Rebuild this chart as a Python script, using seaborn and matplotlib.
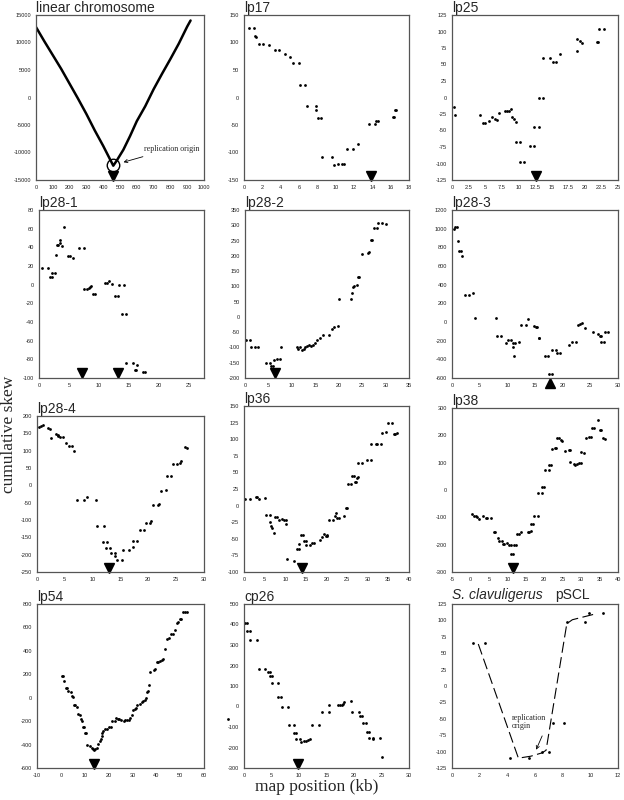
import numpy as np
import pandas as pd
import matplotlib
matplotlib.use('Agg')
import matplotlib.pyplot as plt
import seaborn as sns

# ---- datos ----
chrom_x = [0, 50, 100, 150, 200, 250, 300, 350, 400, 440, 460, 480, 520, 560, 600, 650, 700, 750, 800, 850, 900, 920]
chrom_y = [12800, 10200, 7700, 5200, 2500, -200, -3000, -6000, -8800, -11200, -12400, -11500, -9500, -7000, -4300, -1600, 1500, 4300, 7000, 9800, 12900, 14000]

lp17_x = [0.55, 1.1, 1.15, 1.35, 1.65, 2.05, 2.7, 3.35, 3.85, 4.5, 5.0, 5.3, 6.0, 6.1, 6.7, 6.9, 7.9, 7.9, 8.05, 8.4,
          8.5, 9.6, 9.8, 10.2, 10.7, 10.9, 11.2, 11.9, 12.4, 13.6, 14.3, 14.4, 14.6, 16.2, 16.4, 16.5, 16.6]
lp17_y = [127, 127, 112, 110, 97, 97, 95, 86, 86, 80, 74, 62, 62, 23, 23, -15, -15, -22, -38, -38,
          -108, -108, -122, -121, -120, -121, -93, -93, -85, -48, -49, -42, -42, -36, -36, -22, -22]

lp25_x = [0.3, 0.5, 4.2, 4.7, 4.9, 5.6, 6.0, 6.5, 6.8, 7.1, 8.0, 8.3, 8.6, 8.85, 9.1, 9.4, 9.6, 9.7, 10.3, 10.3,
          10.85, 11.7, 12.3, 12.4, 13.1, 13.1, 13.7, 13.7, 14.7, 15.2, 15.7, 16.3, 18.8, 18.9, 19.3, 19.6, 21.8, 22.0, 22.1, 22.9]
lp25_y = [-15, -26, -26, -38, -39, -36, -30, -32, -34, -23, -21, -21, -21, -17, -30, -32, -37, -68, -68, -97,
          -97, -73, -73, -44, -44, 0, 0, 60, 60, 54, 54, 66, 70, 89, 85, 83, 84, 84, 104, 104]

lp281_x = [0.45, 1.45, 1.8, 2.2, 2.2, 2.7, 2.8, 2.95, 3.2, 3.5, 3.55, 3.9, 4.2, 4.8, 5.2, 5.7, 6.7, 7.55, 7.5, 8.05,
           8.4, 8.55, 8.7, 9.05, 9.3, 11.05, 11.3, 11.7, 12.2, 12.7, 13.2, 13.3, 14.1, 13.9, 14.5, 14.55, 15.7, 16.3, 16.0, 16.2,
           17.4, 17.7]
lp281_y = [18, 18, 8, 8, 13, 13, 32, 42, 42, 48, 45, 41, 62, 31, 31, 29, 39.5, 39.5, -5, -5,
           -4, -2, -1, -10, -10, 2, 2, 4, 1, -12, -12, 0, 0, -31, -31, -84, -84, -86, -91, -91,
           -94, -94]

lp282_x = [0.2, 1.1, 1.2, 2.1, 2.85, 4.4, 5.4, 5.6, 6.0, 6.25, 6.75, 7.5, 7.75, 11.0, 11.3, 11.7, 12.2, 12.5, 12.8, 13.2,
           13.65, 14.1, 14.6, 14.9, 15.4, 16.0, 16.7, 17.9, 18.5, 19.0, 19.8, 20.1, 22.6, 22.8, 23.0, 23.3, 23.8, 24.1, 24.3, 24.9,
           26.3, 26.5, 26.9, 27.2, 27.6, 28.2, 28.4, 29.2, 30.1]
lp282_y = [-75, -75, -100, -100, -100, -150, -150, -160, -160, -141, -137, -137, -97, -100, -106, -100, -108, -105, -100, -95,
           -92, -96, -92, -87, -75, -70, -58, -58, -38, -33, -31, 58, 58, 77, 98, 100, 104, 132, 132, 205,
           210, 214, 253, 253, 290, 290, 307, 307, 305]

lp283_x = [0.35, 0.6, 0.96, 1.1, 1.3, 1.6, 1.75, 2.35, 3.1, 3.8, 4.1, 7.9, 8.1, 8.8, 9.7, 10.1, 10.7, 11.0, 11.15, 11.1,
           11.4, 12.1, 12.4, 13.4, 13.8, 14.8, 15.1, 15.4, 15.65, 15.8, 16.75, 17.35, 17.5, 18.1, 18.0, 18.8, 18.9, 19.5, 21.1, 21.6,
           22.4, 22.8, 23.2, 23.5, 24.1, 25.5, 26.4, 26.7, 26.9, 27.0, 27.4, 27.7, 28.2]
lp283_y = [999, 1015, 1015, 873, 761, 761, 704, 286, 286, 311, 45, 45, -145, -145, -228, -196, -196, -268, -368, -228,
           -228, -214, -27, -27, 27, -48, -55, -55, -167, -167, -361, -361, -559, -559, -304, -304, -332, -332, -246, -214,
           -214, -30, -23, -16, -66, -109, -124, -145, -152, -210, -210, -102, -102]

lp284_x = [0.3, 0.8, 1.1, 2.0, 2.4, 2.6, 3.5, 3.7, 3.8, 4.1, 4.7, 5.2, 5.75, 6.2, 6.7, 7.2, 8.5, 8.9, 10.6, 10.8,
           12.0, 11.8, 12.5, 12.4, 13.2, 13.3, 14.0, 14.1, 14.3, 15.2, 15.4, 16.6, 17.2, 17.3, 17.9, 18.5, 19.3, 19.6, 20.3, 20.4,
           20.9, 21.7, 22.0, 22.2, 23.2, 23.3, 24.1, 24.4, 25.2, 25.7, 25.9, 26.5, 27.0]
lp284_y = [168, 172, 173, 164, 162, 136, 147, 146, 142, 138, 138, 122, 114, 114, 98, -42, -42, -34, -42, -118,
           -118, -163, -163, -181, -181, -195, -195, -203, -215, -214, -186, -186, -177, -161, -161, -129, -128, -108, -109, -104,
           -56, -56, -53, -15, -13, 28, 28, 62, 62, 65, 69, 110, 108]

lp36_x = [0.3, 1.5, 2.8, 3.2, 3.6, 5.2, 5.4, 6.3, 6.4, 6.6, 6.9, 7.2, 7.45, 8.1, 8.5, 9.2, 9.6, 10.2, 10.3, 10.5,
          12.1, 12.8, 13.4, 13.4, 13.8, 14.4, 14.5, 15.0, 15.0, 16.0, 16.6, 16.9, 18.5, 18.9, 19.4, 19.9, 20.2, 20.1, 20.5, 21.6,
          22.1, 22.3, 22.6, 23.0, 24.2, 24.7, 25.0, 25.3, 25.9, 26.2, 26.6, 26.9, 27.1, 27.4, 27.6, 27.7, 28.6, 29.7, 30.8, 30.9,
          31.9, 32.3, 33.1, 33.5, 34.4, 34.9, 35.8, 36.3, 36.6, 37.0]
lp36_y = [10, 10, 13, 13, 10, 12, -14, -14, -24, -30, -33, -41, -17, -17, -22, -20, -21, -21, -27, -81,
          -83, -65, -65, -58, -44, -44, -53, -53, -60, -60, -56, -56, -52, -47, -43, -46, -46, -44, -21, -21,
          -16, -11, -19, -19, -15, -4, -4, 33, 33, 44, 44, 35, 35, 42, 43, 64, 64, 68, 68, 93,
          93, 93, 93, 110, 111, 125, 125, 108, 108, 109]

lp38_x = [0.5, 1.0, 1.45, 1.7, 2.45, 3.4, 4.2, 4.6, 5.6, 6.3, 6.6, 7.35, 7.8, 8.6, 8.8, 9.1, 10.0, 10.5, 11.0, 11.0,
          11.6, 11.8, 12.3, 12.5, 13.1, 13.7, 15.5, 16.0, 16.3, 16.5, 16.9, 17.3, 18.2, 18.2, 19.3, 19.5, 20.0, 20.2, 21.3, 21.4,
          21.9, 22.2, 23.0, 23.3, 23.5, 24.0, 24.6, 24.9, 25.6, 26.7, 27.1, 27.1, 28.1, 28.4, 28.9, 29.5, 29.9, 29.9, 30.9, 31.3,
          32.2, 32.6, 32.9, 33.5, 34.5, 35.0, 35.5, 35.9, 36.6]
lp38_y = [-88, -96, -96, -99, -106, -96, -102, -102, -102, -155, -155, -174, -187, -187, -196, -199, -194, -202, -202, -233,
          -233, -202, -202, -162, -162, -152, -155, -152, -151, -125, -125, -94, -94, -11, -11, 11, 11, 73, 73, 93,
          93, 151, 154, 154, 190, 190, 183, 179, 143, 146, 148, 102, 96, 93, 96, 100, 100, 140, 136, 189,
          195, 194, 226, 226, 256, 218, 218, 190, 188]

lp54_x = [0.4, 1.0, 1.4, 2.0, 2.7, 3.0, 4.2, 4.5, 4.9, 5.5, 5.9, 6.6, 7.0, 8.0, 8.3, 8.7, 9.1, 9.7, 10.1, 10.5,
          11.1, 12.4, 13.1, 13.5, 14.1, 14.5, 15.0, 15.6, 16.2, 16.7, 17.2, 17.4, 17.7, 18.3, 19.3, 20.3, 21.0, 21.4, 22.8, 23.3,
          23.8, 24.3, 25.0, 26.3, 27.0, 27.7, 28.4, 29.1, 29.8, 30.2, 31.1, 31.6, 32.1, 33.1, 33.9, 34.5, 35.1, 35.7, 36.1, 36.7,
          37.0, 37.5, 38.9, 39.6, 40.1, 40.6, 41.5, 42.2, 42.7, 43.6, 44.6, 45.4, 46.1, 46.8, 47.7, 48.5, 49.1, 49.8, 50.3, 51.2,
          51.9, 53.0]
lp54_y = [185, 185, 140, 80, 80, 55, 51, 15, 8, -58, -63, -77, -143, -149, -183, -197, -248, -248, -297, -305,
          -402, -411, -428, -442, -448, -439, -425, -391, -371, -354, -325, -303, -285, -263, -263, -248, -248, -200, -200, -177,
          -183, -183, -191, -197, -186, -194, -194, -177, -148, -103, -97, -91, -63, -57, -40, -29, -18, -6, 51, 56,
          108, 222, 233, 244, 301, 301, 313, 321, 330, 413, 501, 512, 544, 544, 581, 635, 649, 672, 672, 729,
          729, 734]

cp26_x = [-3.0, 0.2, 0.55, 0.6, 1.0, 1.15, 2.4, 2.7, 3.9, 4.4, 4.7, 4.7, 5.0, 5.0, 6.1, 6.2, 6.7, 6.9, 8.0, 8.1,
          9.0, 9.0, 9.5, 9.5, 10.1, 10.4, 10.9, 11.3, 11.7, 12.0, 12.3, 13.7, 14.1, 15.4, 15.4, 17.1, 17.4, 17.9, 18.0, 18.2,
          19.5, 19.7, 20.9, 21.1, 21.5, 21.6, 22.1, 22.3, 22.8, 22.8, 23.4, 23.5, 24.8, 25.1]
cp26_y = [-60, 405, 405, 368, 368, 325, 325, 185, 185, 168, 168, 148, 148, 115, 115, 45, 45, 0, 0, -90,
          -90, -128, -128, -160, -160, -172, -170, -167, -164, -160, -90, -90, -25, -25, 5, 5, 5, 5, 12, 22,
          25, -25, -25, -45, -45, -80, -80, -122, -122, -152, -152, -158, -155, -248]

pscl_x = [1.55, 2.35, 4.2, 5.6, 6.5, 7.0, 7.3, 8.1, 8.3, 9.6, 9.9, 10.9]
pscl_y = [65, 65, -110, -109, -100, -100, -57, -57, 98, 98, 111, 111]
pscl_line_x = [1.9, 4.8, 5.7, 6.5, 6.8, 8.3, 8.7, 10.2]
pscl_line_y = [64, -110, -107, -102, -98, 95, 101, 109]

# posiciones del origen (triangulos)
origen = {
    'chrom': [460], 'lp17': [13.9], 'lp25': [12.7], 'lp28-1': [7.2, 13.2], 'lp28-2': [6.4],
    'lp28-3': [17.8], 'lp28-4': [13.0], 'lp36': [14.1], 'lp38': [11.6], 'lp54': [13.9], 'cp26': [9.8],
}

sns.set_style('white')
plt.rcParams['font.family'] = ['Liberation Sans', 'DejaVu Sans']

fig = plt.figure(figsize=(6.24, 8.0), dpi=100)

def make_ax(l, t, r, b):
    return fig.add_axes([l / 624, 1 - b / 800, (r - l) / 624, (b - t) / 800])

def style(ax, title, xlim, xstep, ylim, ystep):
    ax.set_xlim(xlim)
    ax.set_ylim(ylim)
    ax.set_xticks(np.arange(xlim[0], xlim[1] + 1e-9, xstep))
    ax.set_yticks(np.arange(ylim[0], ylim[1] + 1e-9, ystep))
    ax.set_xticklabels(['{:g}'.format(v) for v in ax.get_xticks()])
    ax.set_yticklabels(['{:g}'.format(v) for v in ax.get_yticks()])
    ax.tick_params(direction='out', length=2, width=0.6, labelsize=4.1, pad=1.5, colors='#222')
    for s in ax.spines.values():
        s.set_color('#555')
        s.set_linewidth(0.9)
    ax.set_xlabel('')
    ax.set_ylabel('')
    if title:
        ax.set_title(title, loc='left', fontsize=10, pad=2)

def puntos(ax, x, y):
    sns.scatterplot(x=x, y=y, ax=ax, color='black', s=4, marker='o', linewidth=0, clip_on=False)

def triangulos(ax, xs, up=False):
    for xv in xs:
        if up:
            ax.plot(xv, -0.03, marker='^', color='black', markersize=7.5, transform=ax.get_xaxis_transform(), clip_on=False)
        else:
            ax.plot(xv, 0.027, marker='v', color='black', markersize=7.5, transform=ax.get_xaxis_transform(), clip_on=False)

# fila 1
ax = make_ax(36, 15, 204, 180)
sns.lineplot(x=chrom_x, y=chrom_y, ax=ax, color='black', linewidth=1.8, sort=False, estimator=None)
ax.plot(458, -12200, marker='o', markersize=9, markerfacecolor='none', markeredgecolor='black', markeredgewidth=1)
ax.annotate('replication origin', xy=(505, -11900), xytext=(640, -9300), fontsize=5.8, family='Liberation Serif',
            va='center', arrowprops=dict(arrowstyle='->', lw=0.6, color='black'))
style(ax, 'linear chromosome', (0, 1000), 100, (-15000, 15000), 5000)
triangulos(ax, origen['chrom'])

ax = make_ax(244, 15, 409, 180)
puntos(ax, lp17_x, lp17_y)
style(ax, 'lp17', (0, 18), 2, (-150, 150), 50)
triangulos(ax, origen['lp17'])

ax = make_ax(452, 15, 618, 180)
puntos(ax, lp25_x, lp25_y)
style(ax, 'lp25', (0, 25), 2.5, (-125, 125), 25)
triangulos(ax, origen['lp25'])

# fila 2
ax = make_ax(39, 210, 204, 378)
puntos(ax, lp281_x, lp281_y)
style(ax, 'lp28-1', (0, 27.5), 5, (-100, 80), 20)
ax.set_xticks([0, 5, 10, 15, 20, 25])
ax.set_xticklabels(['0', '5', '10', '15', '20', '25'])
triangulos(ax, origen['lp28-1'])

ax = make_ax(245, 210, 409, 378)
puntos(ax, lp282_x, lp282_y)
style(ax, 'lp28-2', (0, 35), 5, (-200, 350), 50)
triangulos(ax, origen['lp28-2'])

ax = make_ax(452, 210, 618, 378)
puntos(ax, lp283_x, lp283_y)
style(ax, 'lp28-3', (0, 30), 5, (-600, 1200), 200)
triangulos(ax, origen['lp28-3'], up=True)

# fila 3
ax = make_ax(37, 416, 204, 572)
puntos(ax, lp284_x, lp284_y)
style(ax, 'lp28-4', (0, 30), 5, (-250, 200), 50)
triangulos(ax, origen['lp28-4'])

ax = make_ax(244, 406, 409, 572)
puntos(ax, lp36_x, lp36_y)
style(ax, 'lp36', (0, 40), 5, (-100, 150), 25)
triangulos(ax, origen['lp36'])

ax = make_ax(452, 408, 618, 572)
puntos(ax, lp38_x, lp38_y)
style(ax, 'lp38', (-5, 40), 5, (-300, 300), 100)
triangulos(ax, origen['lp38'])

# fila 4
ax = make_ax(37, 604, 204, 768)
puntos(ax, lp54_x, lp54_y)
style(ax, 'lp54', (-10, 60), 10, (-600, 800), 200)
triangulos(ax, origen['lp54'])

ax = make_ax(244, 604, 409, 768)
puntos(ax, cp26_x, cp26_y)
style(ax, 'cp26', (0, 30), 5, (-300, 500), 100)
triangulos(ax, origen['cp26'])

ax = make_ax(452, 604, 618, 768)
puntos(ax, pscl_x, pscl_y)
sns.lineplot(x=pscl_line_x, y=pscl_line_y, ax=ax, color='black', linewidth=0.8, sort=False, estimator=None,
             linestyle=(0, (10, 4)))
ax.annotate('replication\norigin', xy=(6.0, -101), xytext=(4.35, -55), fontsize=5.8, family='Liberation Serif',
            va='center', ha='left', linespacing=1.0,
            arrowprops=dict(arrowstyle='->', lw=0.6, color='black', relpos=(0.95, 0.0)))
style(ax, None, (0, 12), 2, (-125, 125), 25)
ax.text(0.0, 1.012, 'S. clavuligerus', transform=ax.transAxes, fontsize=10, style='italic', va='bottom')
ax.text(0.62, 1.012, 'pSCL', transform=ax.transAxes, fontsize=10, va='bottom')

fig.text(0.014, 366 / 800, 'cumulative skew', rotation=90, family='Liberation Serif', fontsize=12.5,
         va='center', ha='center')
fig.text(317 / 624, 1 - 787 / 800, 'map position (kb)', family='Liberation Serif', fontsize=12.5,
         va='center', ha='center')

plt.savefig('out.png', dpi=100)
